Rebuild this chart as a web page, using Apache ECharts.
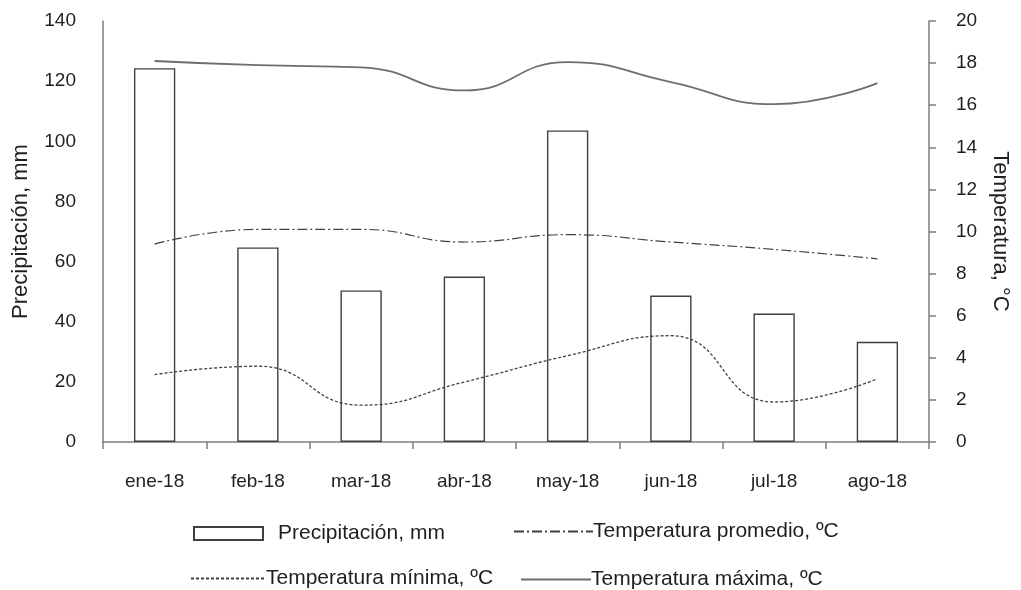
<!DOCTYPE html>
<html><head><meta charset="utf-8">
<script src="https://cdn.jsdelivr.net/npm/echarts@6/dist/echarts.min.js"></script>
<style>html,body{margin:0;padding:0;background:#fff}#c{width:1021px;height:590px}</style>
</head><body><div id="c"></div>
<script>
const categories = ['ene-18','feb-18','mar-18','abr-18','may-18','jun-18','jul-18','ago-18'];
const precipitacion = [124.3, 64.7, 50.4, 55.0, 103.6, 48.7, 42.7, 33.3];
const tempPromedio = [9.4, 10.1, 10.1, 9.5, 9.85, 9.5, 9.15, 8.7];
const tempMinima = [3.2, 3.6, 1.75, 2.85, 4.1, 5.05, 1.9, 3.0];
const tempMaxima = [18.1, 17.9, 17.8, 16.7, 18.05, 17.1, 16.05, 17.05];
const seriesNames = ['Precipitación, mm','Temperatura promedio, ºC','Temperatura mínima, ºC','Temperatura máxima, ºC'];

const font = 'Liberation Sans, Arial, sans-serif';
const txt = '#1f1f1f';
const axisCol = '#7f7f7f';
const chart = echarts.init(document.getElementById('c'));
function leg(name, left, top, w, h, padL, isLine) {
  const o = {data:[name], left:left, top:top, padding:0, itemWidth:w, itemHeight:h, itemGap:0,
    textStyle:{fontFamily:font, fontSize:21, color:txt, padding:[0,0,0,padL]}, selectedMode:false};
  if (isLine) { o.itemStyle = {opacity:0}; o.lineStyle = {opacity:1}; }
  else { o.icon = 'rect'; }
  return o;
}
chart.setOption({
  animation:false,
  grid:{left:103, right:92, top:21, bottom:148},
  legend:[
    leg(seriesNames[0], 193, 523, 69, 13, 10, false),
    leg(seriesNames[1], 513, 521, 79, 14, -5, true),
    leg(seriesNames[2], 190, 568, 75, 14, -5, true),
    leg(seriesNames[3], 520, 569, 70, 14, -5, true)
  ],
  xAxis:{type:'category', data:categories,
    axisLine:{lineStyle:{color:axisCol, width:1.5}},
    axisTick:{show:true, length:7, lineStyle:{color:axisCol, width:1.5}},
    axisLabel:{fontFamily:font, fontSize:19, color:txt, margin:30}},
  yAxis:[
    {type:'value', min:0, max:140, interval:20, name:'Precipitación, mm',
     nameLocation:'middle', nameGap:71, nameRotate:90,
     nameTextStyle:{fontFamily:font, fontSize:22, color:txt},
     axisLine:{show:true, lineStyle:{color:axisCol, width:1.5}},
     axisTick:{show:false}, splitLine:{show:false},
     axisLabel:{fontFamily:font, fontSize:19, color:txt, margin:27}},
    {type:'value', min:0, max:20, interval:2, name:'Temperatura, °C',
     nameLocation:'middle', nameGap:60, nameRotate:-90,
     nameTextStyle:{fontFamily:font, fontSize:22, color:txt},
     axisLine:{show:true, lineStyle:{color:axisCol, width:1.5}},
     axisTick:{show:true, length:7, lineStyle:{color:axisCol, width:1.5}}, splitLine:{show:false},
     axisLabel:{fontFamily:font, fontSize:19, color:txt, margin:27}}
  ],
  series:[
    {name:seriesNames[0], type:'bar', data:precipitacion, barWidth:'40%',
     itemStyle:{color:'#ffffff', borderColor:'#404040', borderWidth:1.4}},
    {name:seriesNames[1], type:'line', yAxisIndex:1, data:tempPromedio, smooth:0.5, symbol:'none',
     lineStyle:{color:'#404040', width:1.2, type:[10,3,2,3]}, itemStyle:{color:'#404040'}},
    {name:seriesNames[2], type:'line', yAxisIndex:1, data:tempMinima, smooth:0.5, symbol:'none',
     lineStyle:{color:'#404040', width:1.3, type:[3,2]}, itemStyle:{color:'#404040'}},
    {name:seriesNames[3], type:'line', yAxisIndex:1, data:tempMaxima, smooth:0.5, symbol:'none',
     lineStyle:{color:'#6e6e6e', width:1.8, type:'solid'}, itemStyle:{color:'#6e6e6e'}}
  ]
});
</script></body></html>
